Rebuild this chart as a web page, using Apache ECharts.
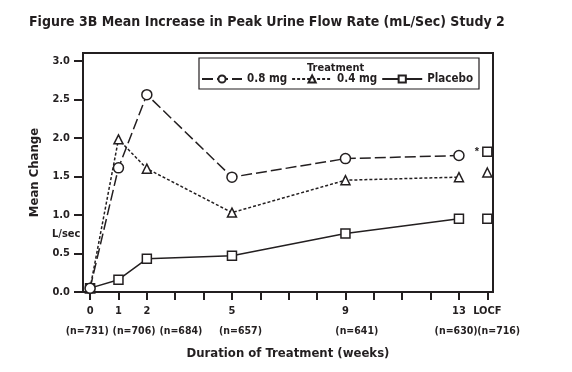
<!DOCTYPE html>
<html><head><meta charset="utf-8">
<script src="https://cdn.jsdelivr.net/npm/echarts@6/dist/echarts.min.js"></script>
<style>html,body{margin:0;padding:0;background:#fff}#c{width:572px;height:372px}</style>
</head><body><div id="c"></div>
<script>
// Data
const weeks = [0, 1, 2, 5, 9, 13];
const locfWeek = 14;
const tickWeeks = [0,1,2,3,4,5,6,7,8,9,10,11,12,13,14];
const labelWeeks = [0, 1, 2, 5, 9, 13, 14];
const labelText = ['0', '1', '2', '5', '9', '13', 'LOCF'];
const nLabels = ['(n=731)', '(n=706)', '(n=684)', '(n=657)', '(n=641)', '(n=630)', '(n=716)'];
const nLabelWeeks = [-0.1, 1.55, 3.2, 5.3, 9.4, 12.9, 14.4];
const yTicks = [0, 0.5, 1.0, 1.5, 2.0, 2.5, 3.0];
const mg08 = [0.05, 1.61, 2.56, 1.49, 1.73, 1.77];
const mg04 = [0.05, 1.98, 1.60, 1.03, 1.45, 1.49];
const placebo = [0.05, 0.16, 0.43, 0.47, 0.76, 0.95];
const locf08 = 1.82, locf04 = 1.55, locfPlacebo = 0.95;

const FONT = '"DejaVu Sans Condensed","Liberation Sans Narrow",sans-serif';
const INK = '#231f20';
const pair = (xs, ys) => xs.map((x, i) => [x, ys[i]]);

const chart = echarts.init(document.getElementById('c'));
const mk = { color: '#fff', borderColor: INK, borderWidth: 1.5, opacity: 1 };
const lineBase = {
  type: 'line', symbolSize: 9, showSymbol: true, z: 3,
  itemStyle: mk, emphasis: { disabled: true }
};
chart.setOption({
  animation: false,
  backgroundColor: '#fff',
  title: [
    { text: 'Figure 3B Mean Increase in Peak Urine Flow Rate (mL/Sec) Study 2', left: 24, top: 10,
      textStyle: { fontFamily: FONT, fontWeight: 'bold', fontSize: 14, color: INK } },
    { text: 'Treatment', left: 302, top: 58,
      textStyle: { fontFamily: FONT, fontWeight: 'bold', fontSize: 11, color: INK } },
    { text: 'L/sec', left: 47, top: 224,
      textStyle: { fontFamily: FONT, fontWeight: 'bold', fontSize: 11, color: INK } }
  ],
  legend: {
    data: ['0.8 mg', '0.4 mg', 'Placebo'],
    left: 199, top: 58, orient: 'horizontal',
    padding: [15, 6, 4, 2], itemGap: 4,
    borderColor: INK, borderWidth: 1.2,
    itemWidth: 40, itemHeight: 9,
    textStyle: { fontFamily: FONT, fontWeight: 'bold', fontSize: 11.5, color: INK }
  },
  grid: { left: 83, right: 79, top: 53, bottom: 80, show: true, borderColor: INK, borderWidth: 2 },
  xAxis: {
    type: 'value', min: -0.25, max: 14.2, position: 'bottom',
    axisLine: { onZero: false, lineStyle: { color: INK, width: 2 } },
    axisTick: { length: 8, lineStyle: { color: INK, width: 2 }, customValues: tickWeeks },
    axisLabel: { customValues: labelWeeks, margin: 14, fontFamily: FONT, fontWeight: 'bold', fontSize: 11, color: INK,
      formatter: v => { const i = labelWeeks.indexOf(v); return i >= 0 ? labelText[i] : ''; } },
    splitLine: { show: false },
    name: 'Duration of Treatment (weeks)', nameLocation: 'middle', nameGap: 55,
    nameTextStyle: { fontFamily: FONT, fontWeight: 'bold', fontSize: 13, color: INK }
  },
  yAxis: {
    type: 'value', min: 0, max: 3.1,
    axisLine: { show: true, onZero: false, lineStyle: { color: INK, width: 2 } },
    axisTick: { show: true, length: 9, lineStyle: { color: INK, width: 2 }, customValues: yTicks },
    axisLabel: { customValues: yTicks, margin: 13, fontFamily: FONT, fontWeight: 'bold', fontSize: 11, color: INK,
      formatter: v => v.toFixed(1) },
    splitLine: { show: false },
    name: 'Mean Change', nameLocation: 'middle', nameGap: 42, nameRotate: 90,
    nameTextStyle: { fontFamily: FONT, fontWeight: 'bold', fontSize: 13, color: INK }
  },
  series: [
    Object.assign({}, lineBase, { name: 'Placebo', symbol: 'rect', data: pair(weeks, placebo),
      lineStyle: { color: INK, width: 1.5, type: 'solid' } }),
    Object.assign({}, lineBase, { name: '0.4 mg', symbol: 'triangle', data: pair(weeks, mg04),
      lineStyle: { color: INK, width: 1.5, type: [3, 2] } }),
    Object.assign({}, lineBase, { name: '0.8 mg', symbol: 'circle', symbolSize: 10, data: pair(weeks, mg08),
      lineStyle: { color: INK, width: 1.5, type: [11, 4] } }),
    { type: 'scatter', name: 'locf08', symbol: 'rect', symbolSize: 9, data: [[locfWeek, locf08]], itemStyle: mk,
      label: { show: true, position: 'left', distance: 3, formatter: '*', color: INK, fontSize: 11, fontWeight: 'bold' } },
    { type: 'scatter', name: 'locf04', symbol: 'triangle', symbolSize: 9, data: [[locfWeek, locf04]], itemStyle: mk },
    { type: 'scatter', name: 'locfP', symbol: 'rect', symbolSize: 9, data: [[locfWeek, locfPlacebo]], itemStyle: mk }
  ]
});
const yN = chart.convertToPixel({ yAxisIndex: 0 }, 0) + 39;
chart.setOption({
  graphic: nLabels.map((t, i) => ({
    type: 'text', x: chart.convertToPixel({ xAxisIndex: 0 }, nLabelWeeks[i]), y: yN,
    style: { text: t, fill: INK, font: 'bold 10.5px ' + FONT, align: 'center', verticalAlign: 'middle' }
  }))
});
</script></body></html>
